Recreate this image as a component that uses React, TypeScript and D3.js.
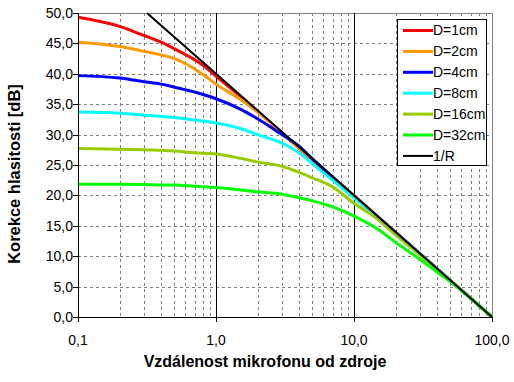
import React from "react";
import * as d3 from "d3";

const seriesNames = ["D=1cm", "D=2cm", "D=4cm", "D=8cm", "D=16cm", "D=32cm", "1/R"];
const seriesColors = ["#ff0000", "#ff9900", "#0000ff", "#00ffff", "#99cc00", "#00ff00", "#000000"];

const d1R = [0.1, 0.2, 0.3, 0.4, 0.5, 0.7, 0.85, 1, 1.5, 2, 3, 5, 7, 10, 20, 50, 100];
const d1V = [49.3, 47.8, 46.3, 45.2, 44.1, 42.3, 41.0, 39.6, 36.3, 33.8, 30.3, 25.8, 22.9, 19.9, 13.9, 6.0, 0];

const d2R = [0.1, 0.2, 0.3, 0.4, 0.5, 0.7, 0.85, 1, 1.5, 2, 3, 5, 10, 20, 50, 100];
const d2V = [45.2, 44.5, 43.7, 43.1, 42.5, 40.8, 39.5, 38.3, 35.8, 33.7, 30.3, 25.9, 20.0, 13.9, 6.0, 0];

const d4R = [0.1, 0.2, 0.3, 0.4, 0.5, 0.7, 1, 1.5, 2, 3, 4, 5, 7, 10, 20, 50, 100];
const d4V = [39.7, 39.3, 38.7, 38.3, 37.8, 37.0, 35.9, 34.2, 32.6, 30.0, 28.1, 26.0, 23.0, 19.9, 13.9, 6.0, 0];

const d8R = [0.1, 0.2, 0.3, 0.5, 0.7, 1, 1.5, 2, 3, 4, 5, 7, 10, 20, 30, 50, 100];
const d8V = [33.7, 33.5, 33.2, 32.8, 32.4, 31.9, 31.0, 30.0, 28.6, 27.0, 25.2, 22.5, 19.6, 13.8, 10.4, 6.0, 0];

const d16R = [0.1, 0.2, 0.3, 0.5, 0.7, 1, 1.5, 2, 3, 4, 5, 7, 10, 15, 20, 30, 50, 100];
const d16V = [27.7, 27.6, 27.5, 27.3, 27.0, 26.8, 26.1, 25.5, 24.8, 23.8, 22.9, 21.4, 18.7, 16.0, 13.5, 10.2, 6.0, 0];

const d32R = [0.1, 0.2, 0.3, 0.4, 0.5, 0.7, 1, 2, 3, 4, 5, 7, 10, 15, 20, 30, 40, 50, 100];
const d32V = [21.85, 21.85, 21.8, 21.7, 21.7, 21.5, 21.3, 20.6, 20.2, 19.6, 19.1, 18.1, 16.6, 14.4, 12.3, 9.5, 7.4, 5.8, 0];

const invR = [0.316, 1, 10, 100];
const invV = [50, 40, 20, 0];

const xTicks = [0.1, 1, 10, 100];
const xTickLabels = ["0,1", "1,0", "10,0", "100,0"];
const yTicks = [0, 5, 10, 15, 20, 25, 30, 35, 40, 45, 50];

export default function App() {
  const W = 514, H = 382;
  const L = 78, R = 492, T = 13, B = 317;
  const x = d3.scaleLog().domain([0.1, 100]).range([L, R]);
  const y = d3.scaleLinear().domain([0, 50]).range([B, T]);
  const cx = (v: number) => Math.round(x(v)) + 0.5;
  const cy = (v: number) => Math.round(y(v)) + 0.5;

  const series = [
    [d1R, d1V], [d2R, d2V], [d4R, d4V], [d8R, d8V], [d16R, d16V], [d32R, d32V], [invR, invV],
  ];
  const line = d3.line<[number, number]>().x(d => x(d[0])).y(d => y(d[1])).curve(d3.curveMonotoneX);

  const minor: number[] = [];
  [0.1, 1, 10].forEach(dec => { for (let k = 2; k <= 9; k++) minor.push(dec * k); });

  const font = "Arial, 'Liberation Sans', sans-serif";

  return (
    <svg width={W} height={H} style={{ position: "absolute", left: 0, top: 0, background: "#fff" }} fontFamily={font}>
      <rect x={0} y={0} width={W} height={H} fill="#fff" />
      {minor.map(v => (
        <line key={"mv" + v} x1={cx(v)} x2={cx(v)} y1={T} y2={B} stroke="#808080" strokeDasharray="3,3" />
      ))}
      {yTicks.filter(v => v > 0 && v < 50).map(v => (
        <line key={"hg" + v} x1={L} x2={R} y1={cy(v)} y2={cy(v)} stroke="#808080" strokeDasharray="3,3" />
      ))}
      <line x1={L} x2={R} y1={cy(50)} y2={cy(50)} stroke="#808080" />
      <line x1={cx(100)} x2={cx(100)} y1={T} y2={B} stroke="#808080" />
      {[1, 10].map(v => (
        <line key={"mj" + v} x1={cx(v)} x2={cx(v)} y1={T} y2={B} stroke="#000" />
      ))}
      {series.map((s, i) => {
        const pts = (s[0] as number[]).map((r, j) => [r, (s[1] as number[])[j]] as [number, number]);
        return (
          <path key={"s" + i} d={line(pts) || ""} fill="none" stroke={seriesColors[i]}
            strokeWidth={i === 6 ? 2 : 3} strokeLinejoin="round" />
        );
      })}
      <line x1={cx(0.1)} x2={cx(0.1)} y1={T} y2={B + 0.5} stroke="#000" />
      <line x1={L} x2={R} y1={cy(0)} y2={cy(0)} stroke="#000" />
      {yTicks.map(v => (
        <g key={"yt" + v}>
          <line x1={L - 5} x2={L} y1={cy(v)} y2={cy(v)} stroke="#000" />
          <text x={73} y={y(v)} dy="0.35em" textAnchor="end" fontSize={14}>{v.toFixed(1).replace(".", ",")}</text>
        </g>
      ))}
      {xTicks.map((v, i) => (
        <g key={"xt" + v}>
          <line x1={cx(v)} x2={cx(v)} y1={B} y2={B + 5} stroke="#000" />
          <text x={x(v)} y={345} textAnchor="middle" fontSize={14}>{xTickLabels[i]}</text>
        </g>
      ))}
      <text x={265} y={367} textAnchor="middle" fontSize={16} fontWeight="bold">Vzdálenost mikrofonu od zdroje</text>
      <text transform="translate(20,174) rotate(-90)" textAnchor="middle" fontSize={16.5} fontWeight="bold">Korekce hlasitosti [dB]</text>
      <rect x={397.5} y={19.5} width={89} height={146} fill="#fff" stroke="#000" />
      {seriesNames.map((n, i) => (
        <g key={"lg" + n}>
          <line x1={403} x2={433} y1={30.5 + i * 20.9} y2={30.5 + i * 20.9} stroke={seriesColors[i]} strokeWidth={i === 6 ? 2 : 3} />
          <text x={433} y={30.5 + i * 20.9} dy="0.35em" fontSize={14}>{n}</text>
        </g>
      ))}
    </svg>
  );
}
